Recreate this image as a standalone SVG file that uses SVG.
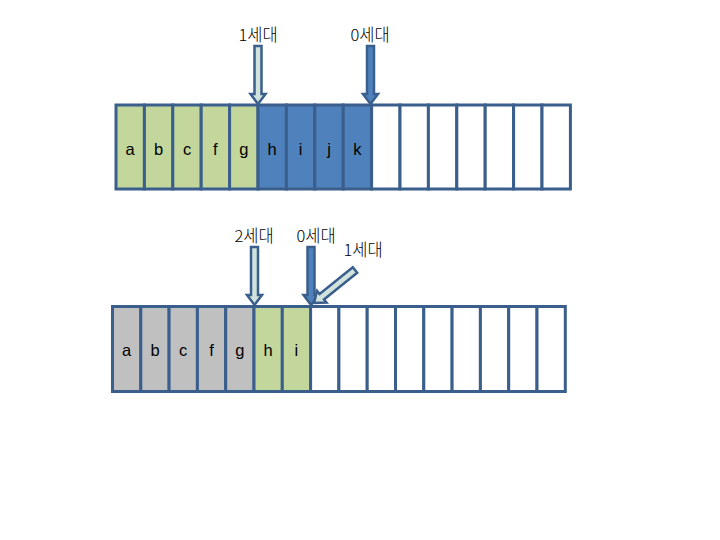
<svg xmlns="http://www.w3.org/2000/svg" width="720" height="540" viewBox="0 0 720 540">
<style>
.c{stroke:#3b5f8c;stroke-width:3}
.g{fill:#c3d69b}.b{fill:#4f81bd}.w{fill:#ffffff}.s{fill:#c0c0c0}
.t{font-family:"Liberation Sans","Noto Sans CJK KR",sans-serif;font-size:16.5px;fill:#000;text-anchor:middle}
.k{font-family:"Noto Sans CJK KR","Liberation Sans",sans-serif;font-size:16.5px;font-weight:300;fill:#000;text-anchor:middle}
.a{stroke:#3b5f8c;stroke-width:2.5;stroke-linejoin:miter}
.ab{fill:#4f81bd}.al{fill:#d2e2dd}
</style>
<defs>
<polygon id="arr" points="-3.5,-58 3.5,-58 3.5,-10 7.5,-10 0,0 -7.5,-10 -3.5,-10"/>
</defs>
<g id="row1">
<rect class="c g" x="116" y="105" width="28.4" height="84"/>
<rect class="c g" x="144.4" y="105" width="28.4" height="84"/>
<rect class="c g" x="172.8" y="105" width="28.4" height="84"/>
<rect class="c g" x="201.2" y="105" width="28.4" height="84"/>
<rect class="c g" x="229.6" y="105" width="28.4" height="84"/>
<rect class="c b" x="258" y="105" width="28.4" height="84"/>
<rect class="c b" x="286.4" y="105" width="28.4" height="84"/>
<rect class="c b" x="314.8" y="105" width="28.4" height="84"/>
<rect class="c b" x="343.2" y="105" width="28.4" height="84"/>
<rect class="c w" x="371.6" y="105" width="28.4" height="84"/>
<rect class="c w" x="400" y="105" width="28.4" height="84"/>
<rect class="c w" x="428.4" y="105" width="28.4" height="84"/>
<rect class="c w" x="456.8" y="105" width="28.4" height="84"/>
<rect class="c w" x="485.2" y="105" width="28.4" height="84"/>
<rect class="c w" x="513.6" y="105" width="28.4" height="84"/>
<rect class="c w" x="542" y="105" width="28.4" height="84"/>
<text class="t" x="130.2" y="155">a</text>
<text class="t" x="158.6" y="155">b</text>
<text class="t" x="187" y="155">c</text>
<text class="t" x="215.4" y="155">f</text>
<text class="t" x="243.8" y="155">g</text>
<text class="t" x="272.2" y="155">h</text>
<text class="t" x="300.6" y="155">i</text>
<text class="t" x="329" y="155">j</text>
<text class="t" x="357.4" y="155">k</text>
</g>
<g id="row2">
<rect class="c s" x="112.5" y="306.5" width="28.3" height="85"/>
<rect class="c s" x="140.8" y="306.5" width="28.3" height="85"/>
<rect class="c s" x="169.1" y="306.5" width="28.3" height="85"/>
<rect class="c s" x="197.4" y="306.5" width="28.3" height="85"/>
<rect class="c s" x="225.7" y="306.5" width="28.3" height="85"/>
<rect class="c g" x="254" y="306.5" width="28.3" height="85"/>
<rect class="c g" x="282.3" y="306.5" width="28.3" height="85"/>
<rect class="c w" x="310.6" y="306.5" width="28.3" height="85"/>
<rect class="c w" x="338.9" y="306.5" width="28.3" height="85"/>
<rect class="c w" x="367.2" y="306.5" width="28.3" height="85"/>
<rect class="c w" x="395.5" y="306.5" width="28.3" height="85"/>
<rect class="c w" x="423.8" y="306.5" width="28.3" height="85"/>
<rect class="c w" x="452.1" y="306.5" width="28.3" height="85"/>
<rect class="c w" x="480.4" y="306.5" width="28.3" height="85"/>
<rect class="c w" x="508.7" y="306.5" width="28.3" height="85"/>
<rect class="c w" x="537" y="306.5" width="28.3" height="85"/>
<text class="t" x="126.6" y="356">a</text>
<text class="t" x="155" y="356">b</text>
<text class="t" x="183.2" y="356">c</text>
<text class="t" x="211.5" y="356">f</text>
<text class="t" x="239.8" y="356">g</text>
<text class="t" x="268.1" y="356">h</text>
<text class="t" x="296.4" y="356">i</text>
</g>
<g id="connectors">
<use href="#arr" class="a al" transform="translate(258,104)"/>
<use href="#arr" class="a ab" transform="translate(370.5,104)"/>
<use href="#arr" class="a al" transform="translate(254.5,305)"/>
<use href="#arr" class="a ab" transform="translate(311,305)"/>
<polygon class="a al" transform="translate(314,303) rotate(51.2)" points="-3.5,-52.6 3.5,-52.6 3.5,-10 7.5,-10 0,0 -7.5,-10 -3.5,-10"/>
</g>
<g id="labels">
<text class="k" x="258" y="41">1세대</text>
<text class="k" x="370" y="41">0세대</text>
<text class="k" x="254" y="242">2세대</text>
<text class="k" x="316" y="242">0세대</text>
<text class="k" x="363" y="256">1세대</text>
</g>
</svg>
